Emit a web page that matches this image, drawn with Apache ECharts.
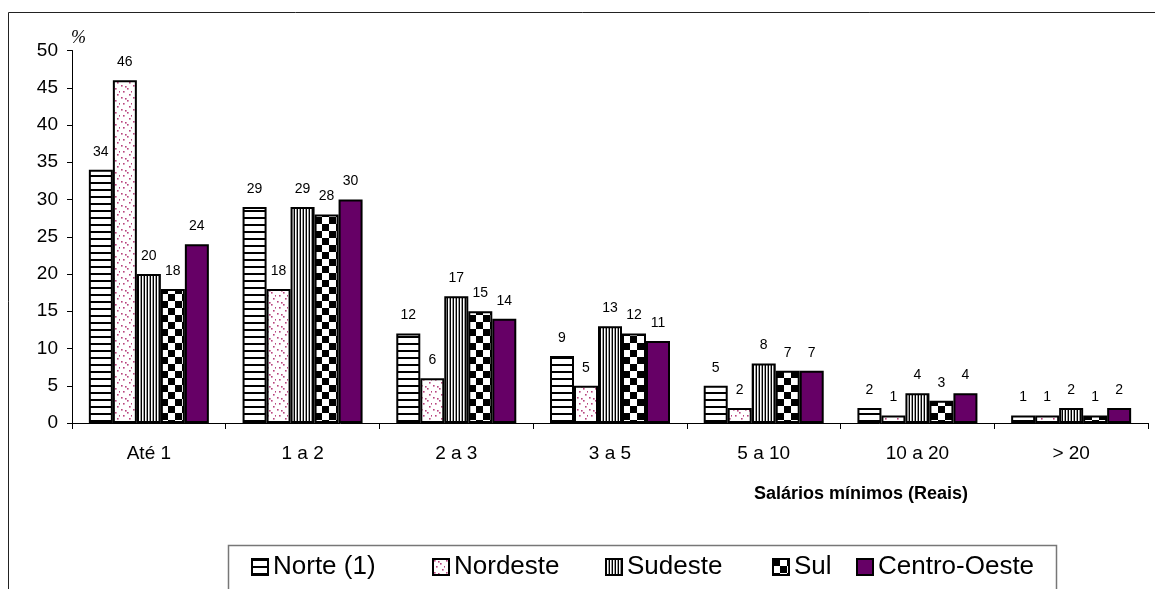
<!DOCTYPE html>
<html>
<head>
<meta charset="utf-8">
<script src="https://cdn.jsdelivr.net/npm/echarts@6/dist/echarts.min.js"></script>
<style>
html,body{margin:0;padding:0;background:#fff;}
#chart{width:1155px;height:589px;}
</style>
</head>
<body>
<div id="chart"></div>
<script>
var categories = ['Até 1', '1 a 2', '2 a 3', '3 a 5', '5 a 10', '10 a 20', '> 20'];
var seriesNames = ['Norte (1)', 'Nordeste', 'Sudeste', 'Sul', 'Centro-Oeste'];
var norte = [34, 29, 12, 9, 5, 2, 1];
var nordeste = [46, 18, 6, 5, 2, 1, 1];
var sudeste = [20, 29, 17, 13, 8, 4, 2];
var sul = [18, 28, 15, 12, 7, 3, 1];
var centroOeste = [24, 30, 14, 11, 7, 4, 2];
var yTicks = [0, 5, 10, 15, 20, 25, 30, 35, 40, 45, 50];

function mk(w, h, draw) {
  var c = document.createElement('canvas');
  c.width = w; c.height = h;
  var g = c.getContext('2d');
  g.fillStyle = '#fff'; g.fillRect(0, 0, w, h);
  draw(g);
  return { image: c, repeat: 'repeat' };
}
var patNorte = mk(8, 7, function (g) { g.fillStyle = '#000'; g.fillRect(0, 0, 8, 2); });
var patNordeste = mk(12, 12, function (g) {
  g.fillStyle = '#b8447e';
  [[1, 1], [7, 4], [3, 7], [9, 10], [5, 2], [11, 7]].forEach(function (p) { g.fillRect(p[0], p[1], 1.6, 1.6); });
});
var patSudeste = mk(3, 4, function (g) { g.fillStyle = '#000'; g.fillRect(0, 0, 1, 4); g.fillStyle = '#999'; g.fillRect(2, 0, 1, 4); });
var patSul = mk(14, 14, function (g) { g.fillStyle = '#000'; g.fillRect(0, 0, 7, 7); g.fillRect(7, 7, 7, 7); });
var colors = [patNorte, patNordeste, patSudeste, patSul, '#660066'];
var values = [norte, nordeste, sudeste, sul, centroOeste];

var FONT = "'Liberation Sans', Arial, sans-serif";
var legendX = [251, 432, 605, 772, 856];

var chart = echarts.init(document.getElementById('chart'), null, { renderer: 'canvas' });
chart.setOption({
  animation: false,
  backgroundColor: '#fff',
  grid: { left: 72, right: 7, top: 50.5, bottom: 166 },
  xAxis: {
    type: 'category',
    data: categories,
    axisLine: { lineStyle: { color: '#000', width: 1 } },
    axisTick: { show: true, length: 6, lineStyle: { color: '#000' } },
    axisLabel: { color: '#000', fontSize: 19, fontFamily: FONT, margin: 21 }
  },
  yAxis: {
    type: 'value',
    min: 0, max: 50, interval: 5,
    axisLine: { show: true, lineStyle: { color: '#000', width: 1 } },
    axisTick: { show: true, length: 5, lineStyle: { color: '#000' } },
    splitLine: { show: false },
    axisLabel: { color: '#000', fontSize: 19, fontFamily: FONT, margin: 14,
      formatter: function (v) { return yTicks.indexOf(v) >= 0 ? String(v) : ''; } }
  },
  legend: seriesNames.map(function (n, i) {
    return {
      data: [n], left: legendX[i], top: 554, padding: 0,
      itemWidth: 16, itemHeight: 16, itemGap: 5,
      icon: 'rect',
      textStyle: { color: '#000', fontSize: 26, fontFamily: FONT, padding: [0, 0, 0, 0] }
    };
  }),
  graphic: [
    { type: 'rect', shape: { x: 8.5, y: 12.5, width: 1300, height: 700 }, style: { fill: 'none', stroke: '#222', lineWidth: 1 }, z: 0, silent: true },
    { type: 'rect', shape: { x: 228.5, y: 545.5, width: 828, height: 100 }, style: { fill: 'none', stroke: '#777', lineWidth: 1.5 }, z: 0, silent: true },
    { type: 'text', left: 71, top: 29, style: { text: '%', font: 'italic 18px "Liberation Serif", serif', fill: '#000' }, silent: true },
    { type: 'text', x: 968, y: 494, style: { text: 'Salários mínimos (Reais)', font: 'bold 18px ' + FONT, fill: '#000', textAlign: 'right', textVerticalAlign: 'middle' }, silent: true }
  ],
  series: seriesNames.map(function (n, i) {
    return {
      name: n, type: 'bar', data: values[i],
      barWidth: 24, barGap: '0%',
      itemStyle: { color: colors[i], borderColor: '#000', borderWidth: 2 },
      label: { show: true, position: 'top', distance: 11, color: '#000', fontSize: 14, fontFamily: FONT }
    };
  })
});
</script>
</body>
</html>
